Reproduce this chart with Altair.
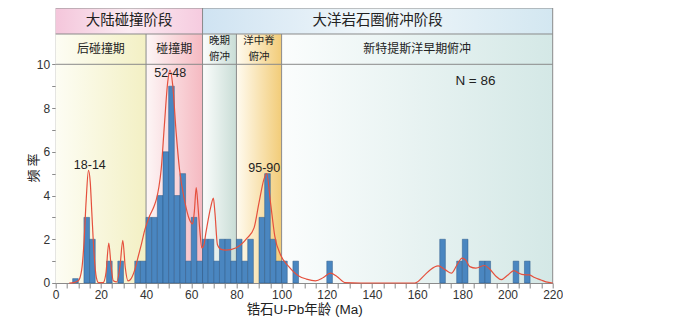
import altair as alt
import pandas as pd

# ---------------- data ----------------
bin_start = [7.5, 12.5, 15, 22.5, 27.5, 35, 37.5, 40, 42.5, 45, 47.5, 50, 52.5, 55,
             57.5, 60, 62.5, 65, 67.5, 70, 72.5, 75, 77.5, 80, 82.5, 85, 90, 92.5,
             95, 97.5, 100, 105, 120, 170, 177.5, 180, 187.5, 190, 202.5, 207.5]
counts = [0.2, 3, 2, 1, 1, 1, 1, 3, 3, 4, 6, 9, 4, 5,
          1, 3, 1, 2, 2, 1, 2, 2, 1, 2, 1, 2, 3, 5,
          2, 1, 1, 1, 1, 2, 1, 2, 1, 1, 1, 1]
bin_width = 2.5

curve_age = [6, 8, 10, 11.5, 12.5, 13.5, 14.5, 15.3, 16, 17, 18, 19, 21, 22.3, 23.5,
             24.5, 25.5, 27, 28.5, 29.7, 30.8, 32, 33, 35, 36.5, 38, 39.5, 41.5, 43.5,
             44.5, 45.7, 46.7, 48.1, 49.6, 50.6, 51.8, 53.3, 54.8, 57, 59.2, 60.6, 61.4,
             62.2, 63, 63.8, 64.7, 65.5, 66.5, 68.7, 69.8, 70.5, 71.6, 73, 75.3, 79.7,
             84.8, 87.8, 90, 92.2, 93.4, 95.1, 97, 99.5, 103.2, 107.6, 111, 115, 118.5,
             121.6, 124.5, 128, 135, 159, 163.4, 166, 169.3, 172.5, 175.2, 177.5, 179.9,
             181.5, 183.3, 186, 189.9, 192, 195, 197.2, 200, 202.8, 205, 207, 209.7, 212,
             214.8, 217, 220]
curve_val = [0, 0.02, 0.1, 0.6, 1.8, 3.8, 5.15, 4.6, 3.2, 1.3, 0.25, 0.02, 0.02, 0.5, 1.83,
             0.8, 0.1, 0.05, 0.8, 1.95, 0.7, 0.1, 0.15, 0.6, 1.2, 1.8, 2.45, 3.05, 3.5,
             3.8, 4.4, 5.2, 7.2, 9.2, 9.74, 9.05, 6.9, 5.2, 3.8, 2.9, 2.7, 3.3,
             4.36, 3.5, 2.4, 1.6, 1.7, 2.3, 3.5, 3.88, 3.2, 1.75, 1.55, 1.5, 1.6,
             2.06, 2.52, 3.67, 4.75, 5.0, 3.67, 2.13, 1.29, 0.75, 0.32, 0.18, 0.1, 0.25,
             0.45, 0.3, 0.02, 0, 0, 0.37, 0.62, 0.78, 0.6, 0.45, 0.8, 1.14,
             1.05, 0.75, 0.68, 0.8, 0.65, 0.3, 0.15, 0.35, 0.57, 0.45, 0.38, 0.37, 0.25,
             0.14, 0.05, 0]

stage_names = ["后碰撞期", "碰撞期", "晚期\n俯冲", "洋中脊\n俯冲", "新特提斯洋早期俯冲"]
stage_start = [0, 40, 65, 80, 100]
stage_end = [40, 65, 80, 100, 220]
stage_left_colors = ["#fdfdf4", "#fdf6f6", "#fbfdfc", "#fffbf0", "#fbfdfd"]
stage_right_colors = ["#f3f0c4", "#f5b9c1", "#c9ddd6", "#f2cc78", "#d4e8e6"]

phase_names = ["大陆碰撞阶段", "大洋岩石圈俯冲阶段"]
phase_start = [0, 65]
phase_end = [65, 220]
phase_colors = [["#f4c6db", "#fbebf2", "#f6cbdf"], ["#cfe3f2", "#f1f7fa", "#d3e7f1"]]

peak_labels = ["18-14", "52-48", "95-90"]
peak_x = [15.1, 50.7, 92.3]
peak_y = [5.41, 9.62, 5.28]
n_label = ["N = 86"]
n_x = [185.8]
n_y = [9.22]

# ---------------- layout constants ----------------
X_MAX = 220
COUNT_MAX = 10
ROW2_TOP = 11.385
ROW1_TOP = 12.574

xs = alt.Scale(domain=[0, X_MAX], nice=False, zero=False)
ys = alt.Scale(domain=[0, ROW1_TOP], nice=False, zero=False)

LINE = "#8a8a8a"
CJK = "Noto Sans CJK SC"
LAT = "Liberation Sans"

X_AX = alt.Axis(values=list(range(0, X_MAX + 1, 5)),
                labelExpr="datum.value % 20 == 0 ? datum.label : ''",
                tickSize=5, tickColor=LINE, domainColor=LINE, grid=False,
                labelFont=LAT, labelFontSize=12, labelColor="#333", labelPadding=2,
                labelFlush=False, labelOverlap=False,
                title="锆石U-Pb年龄 (Ma)", titleFont=LAT + ", " + CJK,
                titleFontSize=13.5, titleFontWeight="normal", titleColor="#222",
                titleX=248.5, titleY=27, titleAlign="center", titleBaseline="middle")
Y_AX = alt.Axis(values=list(range(0, COUNT_MAX + 1)),
                labelExpr="datum.value % 2 == 0 ? datum.label : ''",
                tickSize=4, tickColor=LINE, domainColor=LINE, grid=False,
                labelFont=LAT, labelFontSize=12, labelColor="#333", labelPadding=2,
                labelOverlap=False,
                title="频 率", titleFont=CJK, titleFontSize=13,
                titleFontWeight="normal", titleColor="#222", titleAngle=270,
                titleX=-22, titleY=159.5, titleAlign="center", titleBaseline="middle")


def X(field):
    return alt.X(field, scale=xs, axis=X_AX)


def Y(field):
    return alt.Y(field, scale=ys, axis=Y_AX)


layers = []

# stage bands (plot area + second header row)
for i in range(len(stage_names)):
    d = pd.DataFrame({"x": [stage_start[i]], "x2": [stage_end[i]], "y": [0], "y2": [ROW2_TOP]})
    grad = alt.Gradient(gradient="linear",
                        stops=[alt.GradientStop(color=stage_left_colors[i], offset=0),
                               alt.GradientStop(color=stage_right_colors[i], offset=1)],
                        x1=0, x2=1, y1=0, y2=0)
    layers.append(alt.Chart(d).mark_rect(fill=grad, strokeWidth=0).encode(
        x=X("x:Q"), x2="x2:Q", y=Y("y:Q"), y2="y2:Q"))

# phase header row
for i in range(len(phase_names)):
    d = pd.DataFrame({"x": [phase_start[i]], "x2": [phase_end[i]], "y": [ROW2_TOP], "y2": [ROW1_TOP]})
    c = phase_colors[i]
    grad = alt.Gradient(gradient="linear",
                        stops=[alt.GradientStop(color=c[0], offset=0),
                               alt.GradientStop(color=c[1], offset=0.5),
                               alt.GradientStop(color=c[2], offset=1)],
                        x1=0, x2=1, y1=0, y2=0)
    layers.append(alt.Chart(d).mark_rect(fill=grad, strokeWidth=0).encode(
        x=X("x:Q"), x2="x2:Q", y=Y("y:Q"), y2="y2:Q"))

# separator lines
seg = []
for yv in [COUNT_MAX, ROW2_TOP, ROW1_TOP]:
    seg.append({"x": 0, "x2": X_MAX, "y": yv, "y2": yv})
for xv in stage_start[1:]:
    top = ROW1_TOP if xv in phase_start else ROW2_TOP
    seg.append({"x": xv, "x2": xv, "y": 0, "y2": top})
seg.append({"x": X_MAX, "x2": X_MAX, "y": 0, "y2": ROW1_TOP})
layers.append(alt.Chart(pd.DataFrame(seg)).mark_rule(color=LINE, strokeWidth=1).encode(
    x=X("x:Q"), x2="x2:Q", y=Y("y:Q"), y2="y2:Q"))

# histogram bars
bars_df = pd.DataFrame({"start": bin_start,
                        "end": [b + bin_width for b in bin_start],
                        "count": counts})
layers.append(alt.Chart(bars_df).mark_rect(fill="#4a86c0", stroke="#2d5a88", strokeWidth=0.5).encode(
    x=X("start:Q"), x2="end:Q", y=Y("count:Q"), y2=alt.datum(0)))

# density curve
curve_df = pd.DataFrame({"age": curve_age, "val": curve_val})
layers.append(alt.Chart(curve_df).mark_line(color="#e5503d", strokeWidth=1.2,
                                            interpolate="monotone").encode(
    x=X("age:Q"), y=Y("val:Q")))

# peak labels
pk = pd.DataFrame({"t": peak_labels, "x": peak_x, "y": peak_y})
layers.append(alt.Chart(pk).mark_text(font=LAT, fontSize=12.5, color="#222",
                                      baseline="middle", align="center").encode(
    x=X("x:Q"), y=Y("y:Q"), text="t:N"))
nd = pd.DataFrame({"t": n_label, "x": n_x, "y": n_y})
layers.append(alt.Chart(nd).mark_text(font=LAT, fontSize=13.5, color="#222",
                                      baseline="middle", align="center").encode(
    x=X("x:Q"), y=Y("y:Q"), text="t:N"))

# header texts (second row); two-line names split into separate lines
row2_mid = (COUNT_MAX + ROW2_TOP) / 2
single, top_lines, bottom_lines = [], [], []
for name, a, b in zip(stage_names, stage_start, stage_end):
    parts = name.split("\n")
    cx = (a + b) / 2
    if len(parts) == 1:
        single.append({"t": parts[0], "x": cx, "y": row2_mid})
    else:
        top_lines.append({"t": parts[0], "x": cx, "y": row2_mid})
        bottom_lines.append({"t": parts[1], "x": cx, "y": row2_mid})
for rows, fs, dy in [(single, 12, 0), (top_lines, 10.5, -7.7), (bottom_lines, 10.5, 7.7)]:
    layers.append(alt.Chart(pd.DataFrame(rows)).mark_text(
        font=CJK, fontSize=fs, color="#222", baseline="middle", align="center", dy=dy).encode(
        x=X("x:Q"), y=Y("y:Q"), text="t:N"))

ph = pd.DataFrame({"t": phase_names,
                   "x": [(a + b) / 2 for a, b in zip(phase_start, phase_end)],
                   "y": [(ROW2_TOP + ROW1_TOP) / 2] * len(phase_names)})
layers.append(alt.Chart(ph).mark_text(font=CJK, fontSize=14.5, color="#222",
                                      baseline="middle", align="center").encode(
    x=X("x:Q"), y=Y("y:Q"), text="t:N"))

chart = alt.layer(*layers).properties(
    width=497, height=275,
    padding={"left": 47.7, "top": 0, "right": 10, "bottom": 36},
    autosize=alt.AutoSizeParams(type="none"),
    background="white",
).configure_view(stroke=None)

chart.save("out.html", embed_options={"renderer": "svg", "actions": False})
